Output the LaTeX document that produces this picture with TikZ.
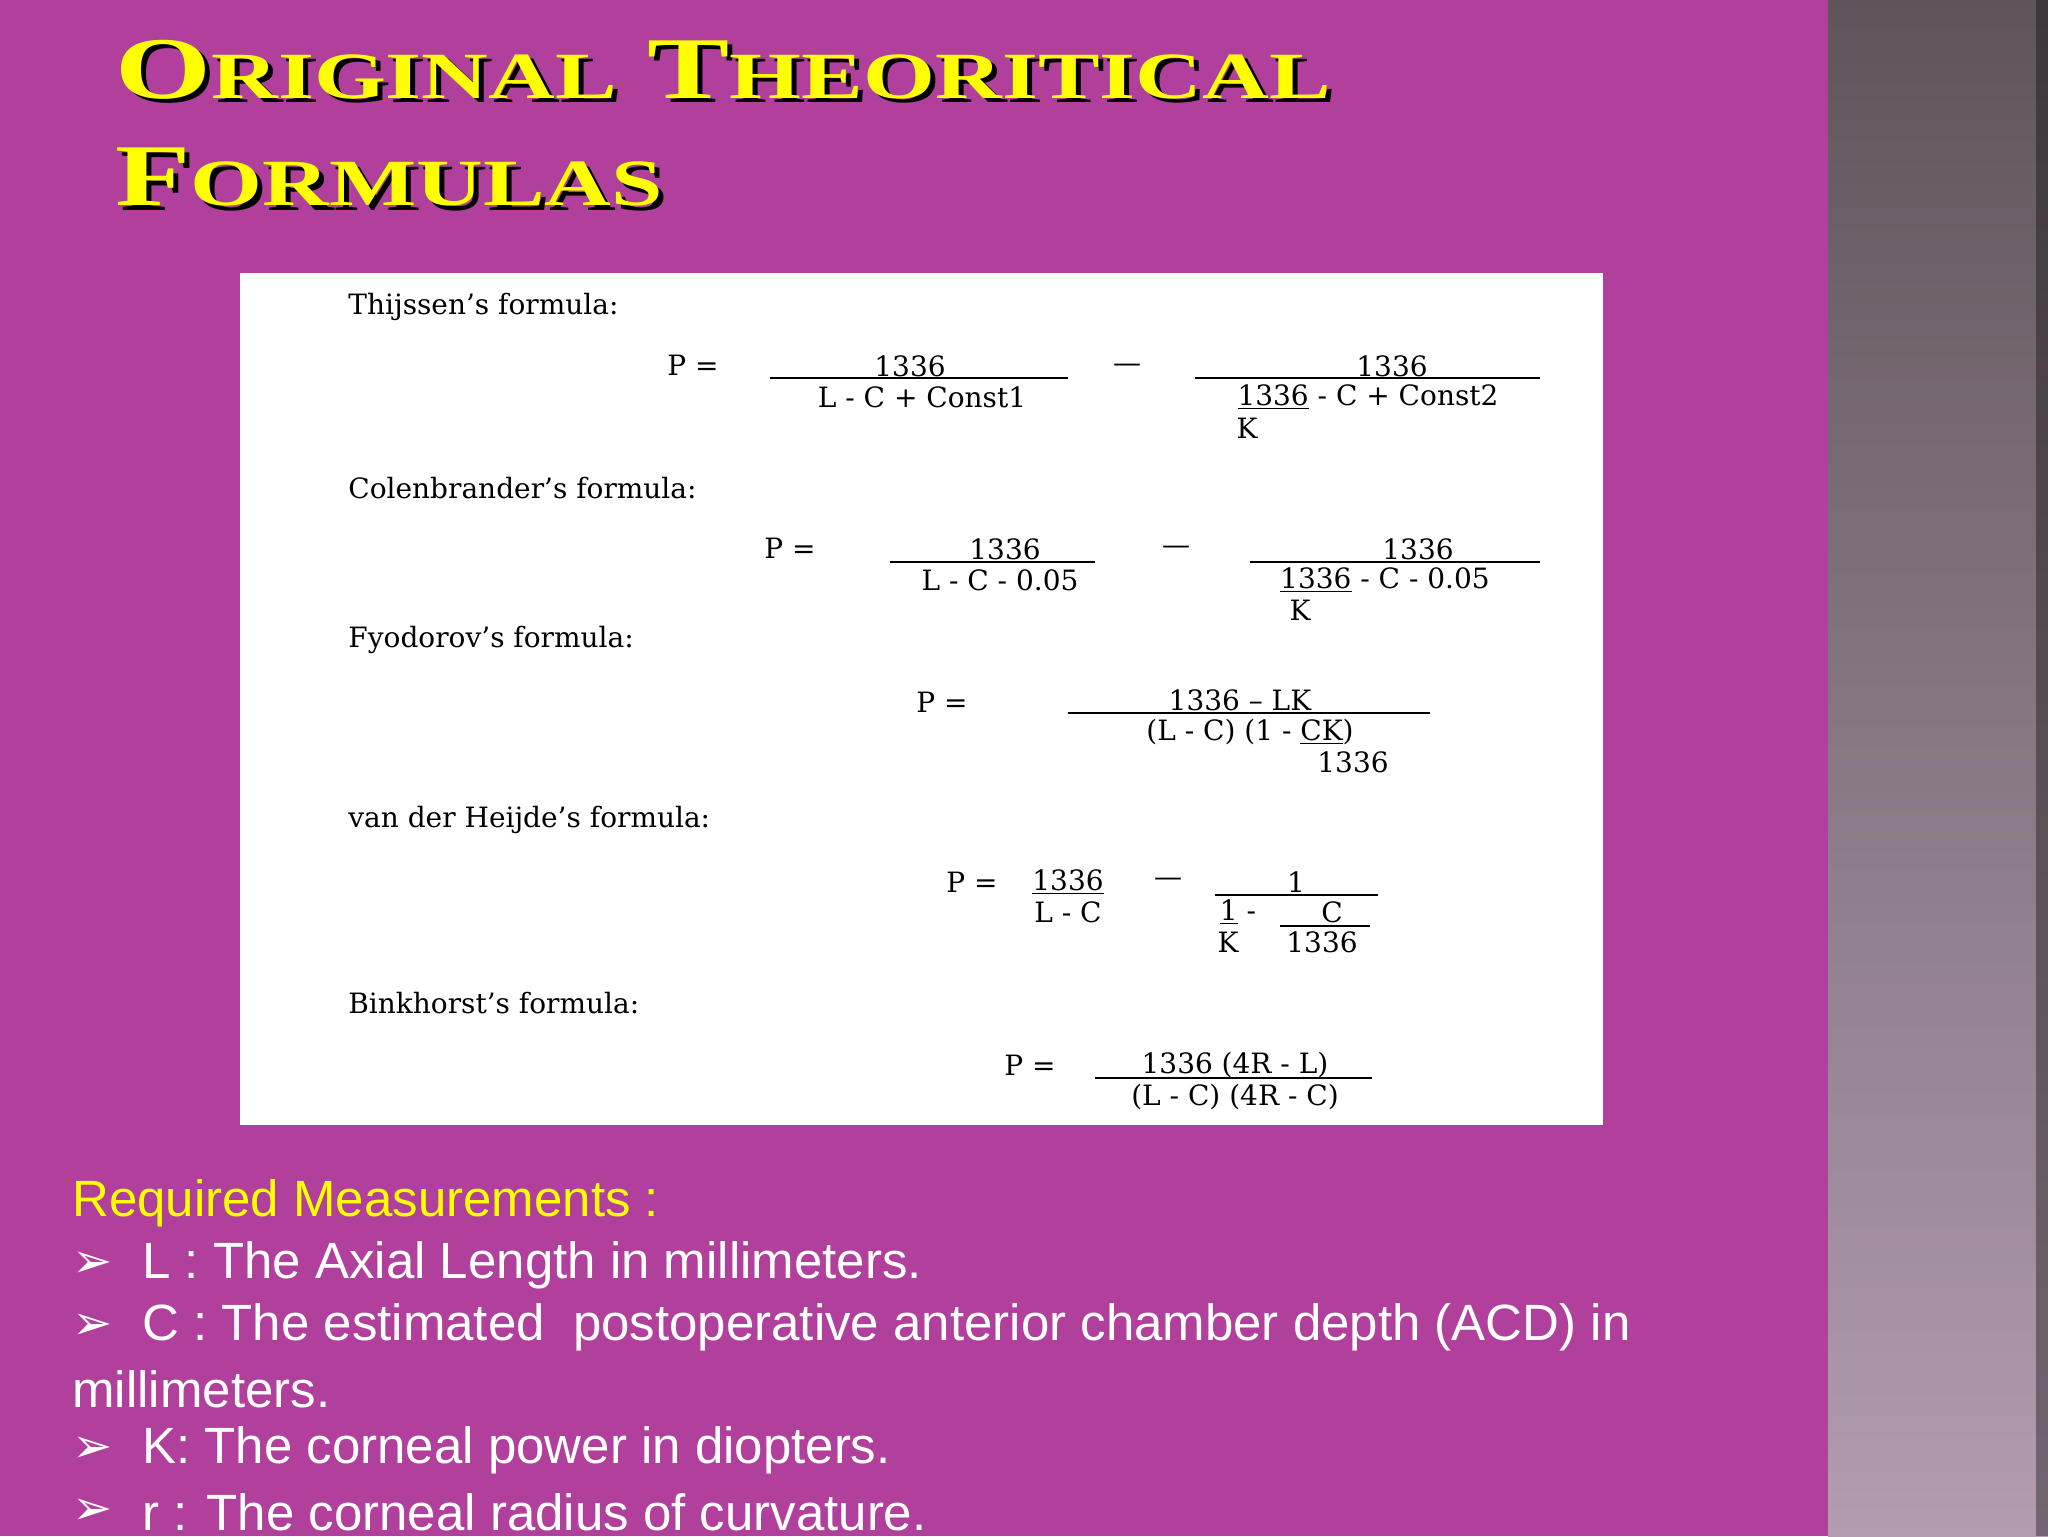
\documentclass[tikz,border=0pt]{standalone}
\usepackage{fontspec}
\setmainfont{DejaVu Serif}
\newfontfamily\ttlf{Liberation Serif}
\newfontfamily\sansf{Liberation Sans}
\newfontfamily\dejav{DejaVu Sans}
\definecolor{bgp}{HTML}{B0409B}
\definecolor{ttl}{HTML}{FFFF00}
\definecolor{stt}{HTML}{5E555C}
\definecolor{stb}{HTML}{B29CAE}
\begin{document}
\begin{tikzpicture}[x=0.5pt,y=-0.5pt,
  ft/.style={font=\fontsize{14}{16}\selectfont,inner sep=0pt,text=black},
  lbl/.style={ft,anchor=west},
  fl/.style={black,line width=0.8pt},
  body/.style={font=\sansf\fontsize{25.5}{28}\selectfont,anchor=west,inner sep=0pt,text=white},
  bul/.style={font=\dejav\bfseries\fontsize{24}{26}\selectfont,anchor=west,inner sep=0pt,text=white},
  tt/.style={font=\ttlf\bfseries\fontsize{44}{48}\selectfont,anchor=base west,inner sep=0pt,xscale=1.4,transform shape}]
\useasboundingbox (0,0) rectangle (2048,1536);
\fill[bgp] (0,0) rectangle (1828,1536);
\shade[top color=stt, bottom color=stb] (1828,0) rectangle (2048,1536);
\fill[black,opacity=0.35] (2036,0) rectangle (2048,1536);
% title
\node[tt,text=black] (t1s) at (120,103) {O{\fontsize{33}{36}\selectfont RIGINAL} T{\fontsize{33}{36}\selectfont HEORITICAL}};
\node[tt,text=black] (t2s) at (120,210) {F{\fontsize{33}{36}\selectfont ORMULAS}};
\node[tt,text=ttl] (t1) at (115,98) {O{\fontsize{33}{36}\selectfont RIGINAL} T{\fontsize{33}{36}\selectfont HEORITICAL}};
\node[tt,text=ttl] (t2) at (115,205) {F{\fontsize{33}{36}\selectfont ORMULAS}};
% white box
\fill[white] (240,273) rectangle (1603,1125);
% Thijssen
\node[lbl] (l1) at (348,307) {Thijssen’s formula:};
\node[ft] (p1) at (693,365) {P =};
\node[ft] (n1a) at (910,366) {1336};
\draw[fl] (770,378) -- (1068,378);
\node[ft] (d1a) at (922,397) {L - C + Const1};
\node[ft] (m1) at (1127,368) {—};
\node[ft] (n1b) at (1392,366) {1336};
\draw[fl] (1195,378) -- (1540,378);
\node[ft] (d1b) at (1368,397) {\underline{1336} - C + Const2};
\node[ft] (k1) at (1247,428) {K};
% Colenbrander
\node[lbl] (l2) at (348,488) {Colenbrander’s formula:};
\node[ft] (p2) at (790,548) {P =};
\node[ft] (n2a) at (1005,549) {1336};
\draw[fl] (890,562) -- (1095,562);
\node[ft] (d2a) at (1000,580) {L - C - 0.05};
\node[ft] (m2) at (1176,550) {—};
\node[ft] (n2b) at (1418,549) {1336};
\draw[fl] (1250,562) -- (1540,562);
\node[ft] (d2b) at (1385,580) {\underline{1336} - C - 0.05};
\node[ft] (k2) at (1300,610) {K};
% Fyodorov
\node[lbl] (l3) at (348,640) {Fyodorov’s formula:};
\node[ft] (p3) at (942,702) {P =};
\node[ft] (n3) at (1240,700) {1336 – LK};
\draw[fl] (1068,713) -- (1430,713);
\node[ft] (d3) at (1250,732) {(L - C) (1 - \underline{CK})};
\node[ft] (e3) at (1353,762) {1336};
% van der Heijde
\node[lbl] (l4) at (348,820) {van der Heijde’s formula:};
\node[ft] (p4) at (972,882) {P =};
\node[ft] (n4a) at (1068,882) {\underline{1336}};
\node[ft] (d4a) at (1068,912) {L - C};
\node[ft] (m4) at (1168,882) {—};
\node[ft] (n4b) at (1296,882) {1};
\draw[fl] (1215,895) -- (1378,895);
\node[ft] (d4b) at (1238,912) {\underline{1} -};
\node[ft] (c4) at (1332,912) {C};
\draw[fl] (1280,926) -- (1370,926);
\node[ft] (k4) at (1228,942) {K};
\node[ft] (e4) at (1322,942) {1336};
% Binkhorst
\node[lbl] (l5) at (348,1003) {Binkhorst’s formula:};
\node[ft] (p5) at (1030,1065) {P =};
\node[ft] (n5) at (1235,1065) {1336 (4R - L)};
\draw[fl] (1095,1078) -- (1372,1078);
\node[ft] (d5) at (1235,1097) {(L - C) (4R - C)};
% bottom text
\node[body,text=ttl] (r0) at (72,1203) {Required Measurements :};
\foreach \y/\t [count=\i] in {1265/{L : The Axial Length in millimeters.},1327/{C : The estimated\ \ postoperative anterior chamber depth (ACD) in},1450/{K: The corneal power in diopters.},1512/{r : The corneal radius of curvature.}}{
 \node[bul] (b\i) at (72,\y) {➢};
 \node[body] (r\i) at (142,\y) {\t};
}
\node[body] (r5) at (72,1389) {millimeters.};
\end{tikzpicture}
\end{document}
